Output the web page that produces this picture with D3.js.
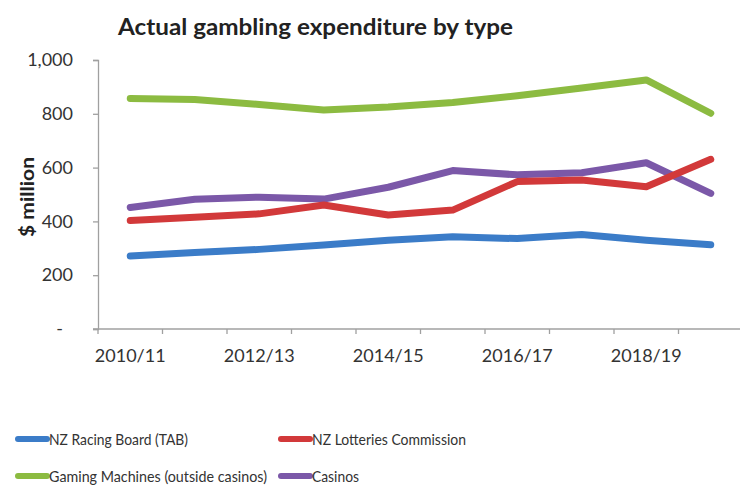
<!DOCTYPE html>
<html>
<head>
<meta charset="utf-8">
<script src="https://cdn.jsdelivr.net/npm/d3@7"></script>
<style>
  html, body { margin: 0; padding: 0; background: #fff; }
  svg { display: block; font-family: Lato, "Open Sans", sans-serif; }
</style>
</head>
<body>
<svg id="chart" width="740" height="487"></svg>
<script>
// Financial years on the category axis
const years = ["2010/11", "2011/12", "2012/13", "2013/14", "2014/15",
               "2015/16", "2016/17", "2017/18", "2018/19", "2019/20"];

// Expenditure by sector, $ million
const tab       = [271, 284, 296, 312, 330, 343, 336, 351, 330, 313];
const lotteries = [403, 415, 428, 461, 424, 442, 548, 554, 529, 631];
const gaming    = [857, 853, 835, 814, 825, 842, 867, 896, 926, 802];
const casinos   = [452, 482, 490, 483, 527, 589, 573, 581, 618, 504];

const seriesNames = ["NZ Racing Board (TAB)", "NZ Lotteries Commission",
                     "Gaming Machines (outside casinos)", "Casinos"];

const yTicks = [0, 200, 400, 600, 800, 1000];

const colors = {
  "NZ Racing Board (TAB)": "#3b7cc8",
  "NZ Lotteries Commission": "#d2393a",
  "Gaming Machines (outside casinos)": "#8cbb41",
  "Casinos": "#7b58a8"
};

const series = [
  { name: seriesNames[0], values: tab },
  { name: seriesNames[1], values: lotteries },
  { name: seriesNames[2], values: gaming },
  { name: seriesNames[3], values: casinos }
];

const svg = d3.select("#chart");
const axisColor = "#a0a0a0";
const textColor = "#333";

const x = d3.scaleBand().domain(years).range([98, 743]).padding(0);
const y = d3.scaleLinear().domain([0, 1000]).range([329, 60]);
const cx = d => x(d) + x.bandwidth() / 2;

// Title
svg.append("text")
  .attr("x", 118).attr("y", 35)
  .attr("font-size", 22).attr("font-weight", "bold")
  .attr("fill", "#222")
  .attr("textLength", 395).attr("lengthAdjust", "spacingAndGlyphs")
  .text("Actual gambling expenditure by type");

// Y axis
const yAxis = svg.append("g")
  .attr("transform", "translate(98,0)")
  .call(d3.axisLeft(y).tickValues(yTicks).tickSize(5).tickPadding(20)
    .tickFormat(v => v === 0 ? "-" : d3.format(",")(v)));
yAxis.select(".domain").attr("stroke", axisColor).attr("stroke-width", 1.3);
yAxis.selectAll(".tick line").attr("stroke", axisColor).attr("stroke-width", 1.3);
yAxis.selectAll(".tick text")
  .attr("font-size", 18).attr("fill", textColor)
  .attr("font-family", "Lato, sans-serif")
  .attr("dx", v => v === 0 ? -10 : 0);

// Y axis title
svg.append("text")
  .attr("transform", "translate(34,197) rotate(-90)")
  .attr("text-anchor", "middle")
  .attr("font-size", 19).attr("font-weight", "bold").attr("fill", "#222")
  .attr("textLength", 80).attr("lengthAdjust", "spacingAndGlyphs")
  .text("$ million");

// X axis: labels on every second year, tick marks between categories
const xAxis = svg.append("g")
  .attr("transform", "translate(0,329)")
  .call(d3.axisBottom(x).tickSize(0).tickPadding(20)
    .tickFormat((d, i) => i % 2 === 0 ? d : ""));
xAxis.select(".domain").remove();
xAxis.selectAll(".tick text")
  .attr("font-size", 18).attr("fill", textColor)
  .attr("font-family", "Lato, sans-serif");

svg.append("line")
  .attr("x1", 93).attr("x2", 740).attr("y1", 329).attr("y2", 329)
  .attr("stroke", axisColor).attr("stroke-width", 1.3);
svg.append("g").selectAll("line")
  .data(years.concat(["end"]))
  .join("line")
  .attr("x1", (d, i) => i < years.length ? x(d) : x(years[years.length - 1]) + x.bandwidth())
  .attr("x2", (d, i) => i < years.length ? x(d) : x(years[years.length - 1]) + x.bandwidth())
  .attr("y1", 329).attr("y2", 334)
  .attr("stroke", axisColor).attr("stroke-width", 1.3);

// Lines
const line = d3.line()
  .x((v, i) => cx(years[i]))
  .y(v => y(v));

const drawOrder = [0, 2, 3, 1];
svg.append("g").selectAll("path")
  .data(drawOrder.map(i => series[i]))
  .join("path")
  .attr("d", d => line(d.values))
  .attr("fill", "none")
  .attr("stroke", d => colors[d.name])
  .attr("stroke-width", 7)
  .attr("stroke-linejoin", "round")
  .attr("stroke-linecap", "round");

// Legend
const legendPos = [
  { x: 15, y: 439, w: 139 },
  { x: 278, y: 439, w: 154 },
  { x: 15, y: 476, w: 218 },
  { x: 278, y: 476, w: 47 }
];
const legend = svg.append("g").selectAll("g")
  .data(series)
  .join("g")
  .attr("transform", (d, i) => `translate(${legendPos[i].x},${legendPos[i].y})`);
legend.append("line")
  .attr("x1", 3).attr("x2", 32).attr("y1", 0).attr("y2", 0)
  .attr("stroke", d => colors[d.name])
  .attr("stroke-width", 6)
  .attr("stroke-linecap", "round");
legend.append("text")
  .attr("x", 34).attr("y", 0).attr("dy", "0.35em")
  .attr("font-size", 16).attr("fill", textColor)
  .attr("textLength", (d, i) => legendPos[i].w)
  .attr("lengthAdjust", "spacingAndGlyphs")
  .text(d => d.name);
</script>
</body>
</html>
